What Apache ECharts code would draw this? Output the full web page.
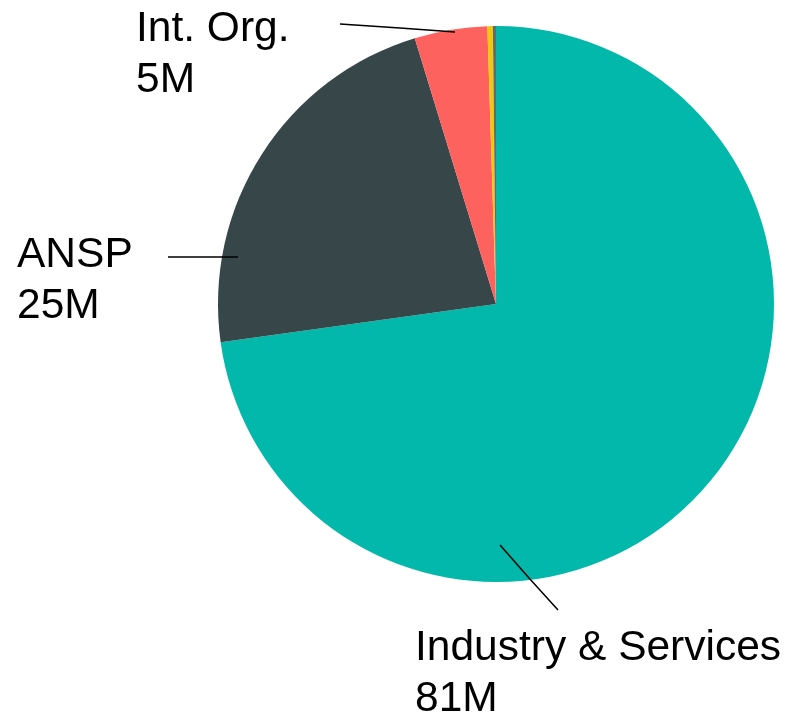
<!DOCTYPE html>
<html>
<head>
<meta charset="utf-8">
<script src="https://cdn.jsdelivr.net/npm/echarts@6/dist/echarts.min.js"></script>
<style>
  html, body { margin: 0; padding: 0; background: #fff; }
  #container { width: 793px; height: 717px; }
</style>
</head>
<body>
<div id="container"></div>
<script>
// funding by stakeholder type (M)
var categories = ['Industry & Services', 'ANSP', 'Int. Org.', 'Research', 'Other'];
var values = [81, 25, 4.7, 0.35, 0.2];
var valueLabels = ['81M', '25M', '5M', '', ''];
var colors = ['#01B8AA', '#374649', '#FD625E', '#F2C80F', '#5F6B6D'];

// label boxes + leader lines (pixel layout only)
var labelSpots = {
    0: { x: 415, y: 623, line: [[558, 610], [529, 578], [500, 545]] },
    1: { x: 17, y: 230, line: [[168, 257], [200, 257], [238, 257]] },
    2: { x: 136, y: 4, line: [[340, 24], [400, 28], [455, 32]] }
};

var myChart = echarts.init(document.getElementById('container'));

var pieData = categories.map(function (name, i) {
    return { name: name, value: values[i], itemStyle: { color: colors[i] } };
});

// same slices again, invisible, only to carry labels above the pie
var labelData = categories.map(function (name, i) {
    return {
        name: name,
        value: values[i],
        itemStyle: { color: 'rgba(0,0,0,0)' },
        label: { show: valueLabels[i] !== '' },
        labelLine: { show: valueLabels[i] !== '' }
    };
});

var option = {
    animation: false,
    series: [
        {
            type: 'pie',
            center: [496, 304],
            radius: 278,
            startAngle: 90,
            clockwise: true,
            silent: true,
            itemStyle: { borderWidth: 0 },
            label: { show: false },
            labelLine: { show: false },
            data: pieData
        },
        {
            type: 'pie',
            z: 5,
            center: [496, 304],
            radius: 278,
            startAngle: 90,
            clockwise: true,
            silent: true,
            avoidLabelOverlap: false,
            itemStyle: { borderWidth: 0 },
            label: {
                formatter: function (p) {
                    return p.name + '\n' + valueLabels[p.dataIndex];
                },
                fontFamily: 'Liberation Sans',
                fontSize: 42.5,
                lineHeight: 51,
                color: '#000'
            },
            labelLine: {
                lineStyle: { color: '#000', width: 1.5 }
            },
            labelLayout: function (params) {
                var s = labelSpots[params.dataIndex];
                if (!s) return {};
                return {
                    x: s.x,
                    y: s.y,
                    align: 'left',
                    verticalAlign: 'top',
                    labelLinePoints: s.line
                };
            },
            data: labelData
        }
    ]
};
myChart.setOption(option);
</script>
</body>
</html>
